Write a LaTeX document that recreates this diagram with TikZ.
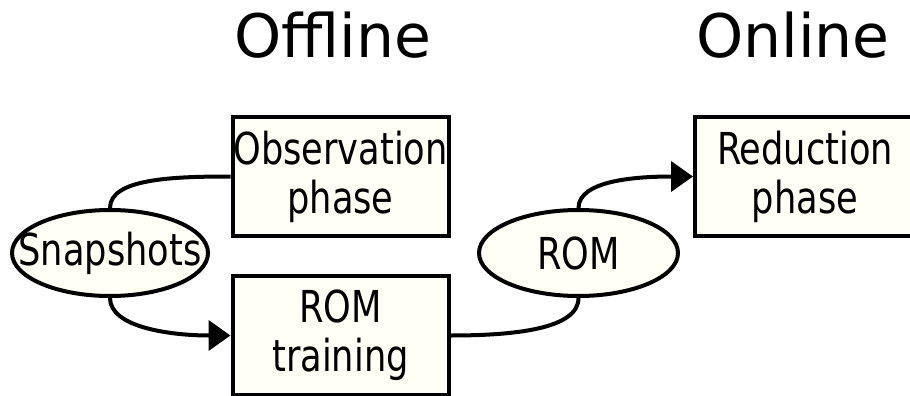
\documentclass[tikz,border=0pt]{standalone}
\usepackage{fontspec}
\setmainfont{DejaVu Sans}[FakeStretch=0.8]
\newfontfamily\headfont{DejaVu Sans}
\usetikzlibrary{arrows.meta, positioning, shapes.geometric}
\usepackage{xcolor}
\definecolor{ivory}{RGB}{255,255,246}

\begin{document}
\begin{tikzpicture}[auto, x=0.5pt, y=0.5pt, >={Triangle[length=11pt, width=15pt]}]
		
		% Define block styles
		\tikzstyle{phase} = [rectangle, draw, line width=2pt, fill=ivory, minimum width=108pt, minimum height=59.5pt, inner sep=0pt, align=center, font=\fontsize{22}{24.5}\selectfont]
		\tikzstyle{data} = [ellipse, draw, line width=2pt, fill=ivory, minimum width=98pt, minimum height=43pt, inner sep=0pt, font=\fontsize{22}{24.5}\selectfont]
		\tikzstyle{link} = [line width=2pt]
		\tikzstyle{title} = [font=\headfont\fontsize{30}{34}\selectfont]
		
		\useasboundingbox (0,0) rectangle (910,-396);
		
		% Nodes
		\node[data] (snapshots) at (110,-253) {\makebox[0pt]{Snapshots}};
		\node[phase] (observation) at (340.5,-176.5) {Observation\\phase};
		\node[phase, below=18pt of observation] (training) {ROM\\training};
		\node[data, minimum width=99.5pt] (rom) at (578.5,-253) {\makebox[0pt]{ROM}};
		\node[phase, minimum width=110pt] (reduction) at (805,-176.5) {Reduction\\phase};
		
		% Arrows
		\draw[link] (snapshots.north) to[out=90, in=180, out looseness=0.6, in looseness=1.2] (observation.west);
		\draw[link, ->] (snapshots.south) to[out=-90, in=180, out looseness=0.6, in looseness=1.2] (training.west);
		\draw[link] (training.east) to[out=0, in=-90, out looseness=1.2, in looseness=0.6] (rom.south);
		\draw[link, ->] (rom.north) to[out=90, in=180, out looseness=0.6, in looseness=1.2] (reduction.west);
		
		% Labels
		\node[title] (offline) at (333,-35) {Offline};
		\node[title] (online) at (793,-35) {Online};
		
	\end{tikzpicture}
\end{document}
